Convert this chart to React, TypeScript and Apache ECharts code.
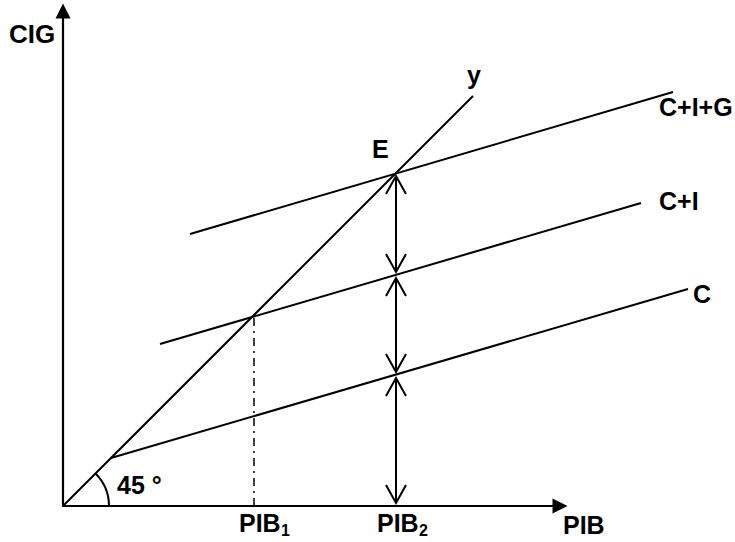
import React, { useEffect, useRef } from "react";
import * as echarts from "echarts";

// Data (in diagram units: 1 unit on each axis)
const line45 = [[0, 0], [410, 410]];
const lineC = [[48, 48], [625, 217]];
const lineCI = [[97, 162], [578, 303]];
const lineCIG = [[127, 272], [610, 414]];
const pib1Guide = [[191, 0], [191, 191]];
// vertical double arrows at PIB2: [x, from, to]
const gapArrows = [[333, 0, 131], [333, 131, 231], [333, 231, 333]];
const angleMark = [[0, 0]];

const FONT = "bold 25px 'Liberation Sans', Arial, sans-serif";
const SUBFONT = "bold 16px 'Liberation Sans', Arial, sans-serif";

function lineSeries(data: number[][]) {
  return {
    type: "line",
    data,
    xAxisIndex: 1,
    yAxisIndex: 1,
    symbol: "none",
    clip: false,
    silent: true,
    lineStyle: { color: "#000", width: 2 },
  };
}

function txt(text: string, x: number, y: number, font = FONT) {
  return {
    type: "text",
    x,
    y,
    silent: true,
    style: { text, font, fill: "#000", textAlign: "left", textVerticalAlign: "middle" },
  };
}

export default function App() {
  const ref = useRef<HTMLDivElement>(null);
  useEffect(() => {
    if (!ref.current) return;
    const chart = echarts.init(ref.current, null, { renderer: "svg" });
    const hidden = {
      axisTick: { show: false },
      axisLabel: { show: false },
      splitLine: { show: false },
    };
    const axisShown = {
      type: "value",
      min: 0,
      axisLine: {
        show: true,
        symbol: ["none", "triangle"],
        symbolSize: [15, 15],
        lineStyle: { color: "#000", width: 2.2 },
      },
      ...hidden,
    };
    const axisHidden = { type: "value", min: 0, axisLine: { show: false }, ...hidden };
    chart.setOption({
      animation: false,
      backgroundColor: "#fff",
      grid: [
        { left: 63, top: 11, width: 497, height: 495 },
        { left: 63, top: 11, width: 640, height: 495 },
      ],
      xAxis: [
        { ...axisShown, max: 497, gridIndex: 0 },
        { ...axisHidden, max: 640, gridIndex: 1 },
      ],
      yAxis: [
        { ...axisShown, max: 495, gridIndex: 0 },
        { ...axisHidden, max: 495, gridIndex: 1 },
      ],
      series: [
        lineSeries(line45),
        lineSeries(lineC),
        lineSeries(lineCI),
        lineSeries(lineCIG),
        {
          type: "line",
          data: pib1Guide,
          xAxisIndex: 1,
          yAxisIndex: 1,
          symbol: "none",
          silent: true,
          lineStyle: { color: "#000", width: 1.5, type: [8, 5, 2, 5] },
        },
        {
          type: "custom",
          data: gapArrows,
          xAxisIndex: 1,
          yAxisIndex: 1,
          encode: { x: 0, y: [1, 2] },
          clip: false,
          silent: true,
          renderItem: (params: any, api: any) => {
            const x = api.value(0);
            const b = api.coord([x, api.value(1)]);
            const t = api.coord([x, api.value(2)]);
            const g = 3;
            const px = b[0];
            const by = b[1] - g;
            const ty = t[1] + g;
            const st = { stroke: "#000", lineWidth: 2, fill: "none" };
            return {
              type: "group",
              children: [
                { type: "line", shape: { x1: px, y1: by, x2: px, y2: ty }, style: st },
                {
                  type: "polyline",
                  shape: { points: [[px - 10, ty + 18], [px, ty], [px + 10, ty + 18]] },
                  style: st,
                },
                {
                  type: "polyline",
                  shape: { points: [[px - 10, by - 18], [px, by], [px + 10, by - 18]] },
                  style: st,
                },
              ],
            };
          },
        },
        {
          type: "custom",
          data: angleMark,
          xAxisIndex: 1,
          yAxisIndex: 1,
          encode: { x: 0, y: 1 },
          clip: false,
          silent: true,
          renderItem: (params: any, api: any) => {
            const c = api.coord([api.value(0), api.value(1)]);
            return {
              type: "arc",
              shape: { cx: c[0], cy: c[1], r: 46, startAngle: -Math.PI / 4, endAngle: 0, clockwise: true },
              style: { stroke: "#000", lineWidth: 2, fill: "none" },
            };
          },
        },
      ],
      graphic: [
        txt("CIG", 9, 34, "bold 26px 'Liberation Sans', Arial, sans-serif"),
        txt("y", 467, 75),
        txt("E", 372, 149),
        txt("C+I+G", 659, 107),
        txt("C+I", 659, 201),
        txt("C", 693, 294),
        txt("45 °", 117, 485),
        txt("PIB", 239, 523),
        txt("1", 281, 530, SUBFONT),
        txt("PIB", 377, 523),
        txt("2", 419, 530, SUBFONT),
        txt("PIB", 563, 525),
      ],
    });
    return () => chart.dispose();
  }, []);
  return (
    <div
      ref={ref}
      style={{ position: "fixed", left: 0, top: 0, width: 735, height: 542, background: "#fff" }}
    />
  );
}
